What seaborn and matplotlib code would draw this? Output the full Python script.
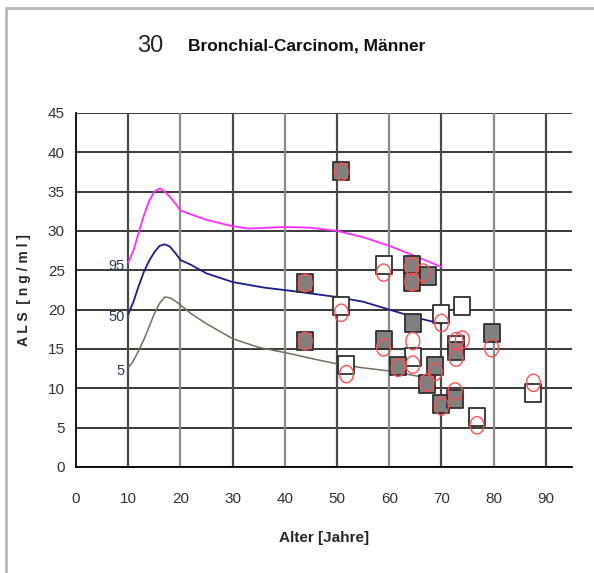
import numpy as np
import pandas as pd
import matplotlib
matplotlib.use("Agg")
import matplotlib.pyplot as plt
from matplotlib.path import Path
from matplotlib.patches import Rectangle
import seaborn as sns

# ---- data ----
p95_x = [10, 11, 12, 13, 14, 15, 16, 17, 18, 19, 20, 22, 25, 30, 33, 40, 45, 50, 55, 60, 65, 70]
p95_y = [26, 27.5, 29.8, 32, 33.8, 35, 35.4, 35, 34.3, 33.5, 32.6, 32.1, 31.4, 30.6, 30.3, 30.5, 30.4, 30, 29.2, 28.1, 26.8, 25.4]

p50_x = [10, 11, 12, 13, 14, 15, 16, 17, 18, 19, 20, 22, 25, 30, 36, 41, 50, 55, 60, 65, 70]
p50_y = [19.4, 21, 23, 24.8, 26.2, 27.3, 28.1, 28.3, 28, 27.2, 26.3, 25.7, 24.6, 23.5, 22.8, 22.4, 21.6, 21.0, 20.0, 19.0, 18.2]

p5_x = [10, 11, 12, 13, 14, 15, 16, 17, 18, 19, 20, 22, 25, 30, 35, 41, 45, 50, 55, 60, 65, 68]
p5_y = [12.6, 13.5, 14.8, 16.2, 17.8, 19.5, 20.8, 21.6, 21.5, 21.1, 20.6, 19.5, 18.2, 16.3, 15.2, 14.4, 13.8, 13.1, 12.6, 12.2, 11.6, 11.2]

open_x = [50.8, 51.8, 58.9, 64.5, 70.0, 73.9, 72.8, 76.8, 87.6]
open_y = [20.5, 13.0, 25.7, 14.0, 19.4, 20.4, 15.5, 6.4, 9.4]

fill_x = [50.8, 43.9, 43.9, 58.9, 64.3, 64.3, 67.5, 64.5, 61.7, 68.8, 67.2, 70.0, 72.6, 72.8, 79.6]
fill_y = [37.6, 23.4, 16.0, 16.2, 25.7, 23.5, 24.3, 18.3, 12.8, 12.8, 10.5, 8.0, 8.6, 14.8, 17.0]

circ_x = [50.8, 43.9, 43.9, 50.8, 51.8, 58.9, 58.9, 64.3, 64.3, 66.5, 64.5, 64.5, 61.7, 70.0,
          68.8, 67.2, 70.0, 72.6, 72.8, 72.8, 74.0, 76.8, 79.6, 87.6]
circ_y = [37.5, 23.4, 16.0, 19.6, 11.8, 24.7, 15.2, 25.5, 23.5, 24.7, 16.0, 13.0, 12.6, 18.3,
          12.1, 10.7, 7.7, 9.6, 16.0, 13.9, 16.2, 5.3, 15.1, 10.7]

curve_labels = ["95", "50", "5"]
x_ticks = list(range(0, 100, 10))
y_ticks = list(range(0, 50, 5))

# ---- styling ----
sns.set_style("white")
plt.rcParams["font.family"] = ["Liberation Sans", "DejaVu Sans"]

fig = plt.figure(figsize=(5.94, 5.73), dpi=100)
fig.patches.append(Rectangle((0.010, -0.01), 1.2, 0.996, transform=fig.transFigure,
                             fill=False, edgecolor="#b8b8b8", lw=2.0))
ax = fig.add_axes([0.128, 0.185, 0.835, 0.618])

# grid
for yv in y_ticks:
    ax.axhline(yv, color="#2a2a2a", lw=1.3, zorder=0)
for i, xv in enumerate(x_ticks[1:]):
    ax.axvline(xv, color="#4a4a4a" if i % 2 == 0 else "#8a8a8a", lw=1.6, zorder=0)

# curves
df95 = pd.DataFrame({"x": p95_x, "y": p95_y})
df50 = pd.DataFrame({"x": p50_x, "y": p50_y})
df5 = pd.DataFrame({"x": p5_x, "y": p5_y})
sns.lineplot(data=df95, x="x", y="y", ax=ax, color="#ff2cff", lw=1.3, zorder=3)
sns.lineplot(data=df50, x="x", y="y", ax=ax, color="#1c1c8c", lw=1.3, zorder=3)
sns.lineplot(data=df5, x="x", y="y", ax=ax, color="#707060", lw=1.1, zorder=3)

for lab, xs, ys in zip(curve_labels, [p95_x, p50_x, p5_x], [p95_y, p50_y, p5_y]):
    ax.text(xs[0] - 0.7, ys[0] - 0.4, lab, ha="right", va="center", fontsize=10.5,
            color="#2a3a5a", zorder=4)

# markers
sq = Path([(-0.42, -0.5), (0.42, -0.5), (0.42, 0.5), (-0.42, 0.5), (-0.42, -0.5)],
          [Path.MOVETO, Path.LINETO, Path.LINETO, Path.LINETO, Path.CLOSEPOLY])
t = np.linspace(0, 2 * np.pi, 60)
ell = Path(np.column_stack([0.4 * np.cos(t), 0.5 * np.sin(t)]), closed=True)

sns.scatterplot(x=open_x, y=open_y, ax=ax, marker=sq, s=175, facecolor="white",
                edgecolor="#303030", linewidth=1.3, zorder=5)
sns.scatterplot(x=fill_x, y=fill_y, ax=ax, marker=sq, s=175, facecolor="#808080",
                edgecolor="#303030", linewidth=1.3, zorder=6)
sns.scatterplot(x=circ_x, y=circ_y, ax=ax, marker=ell, s=155, facecolor="none",
                edgecolor="#ff5050", linewidth=1.0, zorder=7)

ax.set_xlim(0, 95)
ax.set_ylim(0, 45)
ax.set_xticks(x_ticks)
ax.set_yticks(y_ticks)
ax.tick_params(axis="both", direction="out", length=4, width=1.2, color="black",
               labelsize=11, labelcolor="#333333", pad=4)
ax.tick_params(axis="x", pad=14)
for s in ["top", "right"]:
    ax.spines[s].set_visible(False)
for s in ["left", "bottom"]:
    ax.spines[s].set_color("black")
    ax.spines[s].set_linewidth(1.3)

ax.set_xlabel("Alter [Jahre]", fontsize=11, fontweight="bold", labelpad=18)
ax.set_ylabel("A L S  [ n g / m l ]", fontsize=10, fontweight="bold", labelpad=12)

fig.text(0.253, 0.92, "30", fontsize=17, ha="center", va="center")
fig.text(0.316, 0.92, "Bronchial-Carcinom, Männer", fontsize=12.5, fontweight="bold",
         ha="left", va="center", color="#111111")

fig.savefig("out.png", dpi=100)
